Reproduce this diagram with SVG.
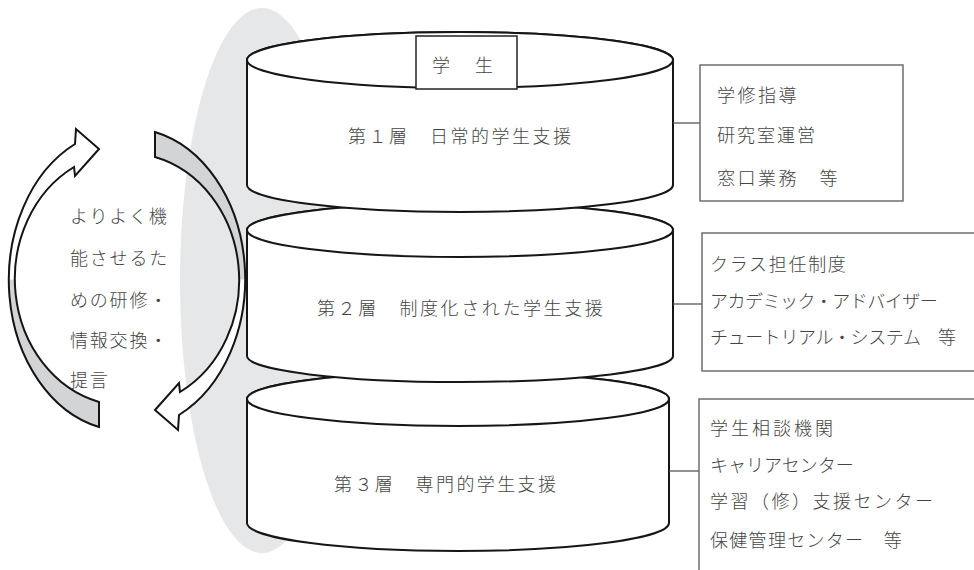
<svg xmlns="http://www.w3.org/2000/svg" width="974" height="570" viewBox="0 0 974 570">
<style>
.cyl{fill:#fff;stroke:#161616;stroke-width:2;stroke-linejoin:round}
.box{fill:#fff;stroke:#6e6e6e;stroke-width:1.5}
.conn{stroke:#555;stroke-width:1.3;fill:none}
.t{font-family:"Noto Sans CJK JP","Noto Sans CJK SC",sans-serif;font-size:18px;font-weight:300;fill:#444}
.aout{fill:none;stroke:#151515;stroke-width:2;stroke-linejoin:miter}
</style>
<defs>
<g id="cycArrow">
<path d="M99,149 L76,129 L75,144 A117,151 0 0 0 99,427 L99,402 A112,127 0 0 1 74,167 L75,176 Z" fill="#d3d4d6"/>
<path d="M99,149 L76,129 L75,144 A117,151 0 0 0 10,279.5 L15,279.5 A112,127 0 0 1 74,167 L75,176 Z" fill="#fff"/>
<path class="aout" d="M99,149 L76,129 L75,144 A117,151 0 0 0 99,427 L99,402 A112,127 0 0 1 74,167 L75,176 Z"/>
</g>
</defs>
<rect width="974" height="570" fill="#fff"/>
<ellipse id="backdrop" cx="262" cy="280.5" rx="82" ry="272.5" fill="#e6e7e8"/>

<g id="arrow-up-left"><use href="#cycArrow"/></g>
<g id="arrow-down-right"><use href="#cycArrow" transform="rotate(180 127 279.5)"/></g>

<g id="label-cycle">
<text class="t" x="70" y="223" letter-spacing="1.8">よりよく機</text>
<text class="t" x="70" y="264.5" letter-spacing="1.8">能させるた</text>
<text class="t" x="70" y="306.5" letter-spacing="1.8">めの研修・</text>
<text class="t" x="70" y="347" letter-spacing="1.8">情報交換・</text>
<text class="t" x="70" y="387" letter-spacing="1.8">提言</text>
</g>

<g id="layer3">
<path class="cyl" d="M247,399 L247,523 A211,28 0 0 0 669,523 L669,399 A211,27 0 0 0 247,399 Z"/>
<ellipse class="cyl" cx="458" cy="399" rx="211" ry="27"/>
<text class="t" x="334" y="491" letter-spacing="2.4">第３層　専門的学生支援</text>
</g>

<g id="layer2">
<path class="cyl" d="M247,230 L247,356 A213,26 0 0 0 673,356 L673,230 A213,27 0 0 0 247,230 Z"/>
<ellipse class="cyl" cx="460" cy="230" rx="213" ry="27"/>
<text class="t" x="317" y="315" letter-spacing="2.6">第２層　制度化された学生支援</text>
</g>

<g id="layer1">
<path class="cyl" d="M247,60 L247,185 A213,27 0 0 0 673,185 L673,60 A213,28 0 0 0 247,60 Z"/>
<ellipse class="cyl" cx="460" cy="60" rx="213" ry="28"/>
<text class="t" x="348" y="143" letter-spacing="2.5">第１層　日常的学生支援</text>
</g>

<g id="student">
<rect x="416" y="36" width="101" height="53" fill="#fff" stroke="#222" stroke-width="1.5"/>
<text class="t" x="432" y="72" letter-spacing="3.5">学　生</text>
</g>

<g id="connectors">
<line class="conn" x1="673" y1="123" x2="700" y2="123"/>
<line class="conn" x1="673" y1="304" x2="702" y2="304"/>
<line class="conn" x1="669" y1="471" x2="699" y2="471"/>
</g>

<g id="box1">
<rect class="box" x="700" y="65" width="203" height="136"/>
<text class="t" x="717" y="101.5" letter-spacing="2.5">学修指導</text>
<text class="t" x="717" y="142" letter-spacing="2">研究室運営</text>
<text class="t" x="717" y="185" letter-spacing="2.5">窓口業務　等</text>
</g>

<g id="box2">
<rect class="box" x="702" y="233" width="300" height="138"/>
<text class="t" x="710" y="271" letter-spacing="1.7">クラス担任制度</text>
<text class="t" x="710" y="308" letter-spacing="-0.5">アカデミック・アドバイザー</text>
<text class="t" x="710" y="343.5" letter-spacing="-0.4">チュートリアル・システム　等</text>
</g>

<g id="box3">
<rect class="box" x="699" y="399" width="300" height="200"/>
<text class="t" x="710" y="435" letter-spacing="3">学生相談機関</text>
<text class="t" x="710" y="471.5" letter-spacing="0">キャリアセンター</text>
<text class="t" x="710" y="508" letter-spacing="2.5">学習（修）支援センター</text>
<text class="t" x="710" y="546.5" letter-spacing="1.3">保健管理センター　等</text>
</g>
</svg>
